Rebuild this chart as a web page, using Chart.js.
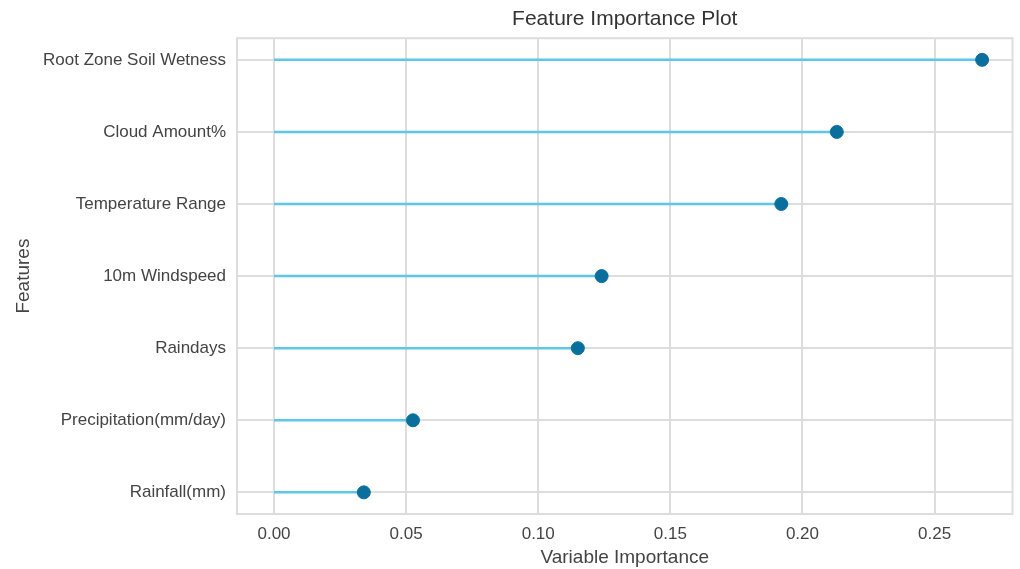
<!DOCTYPE html>
<html>
<head>
<meta charset="utf-8">
<script src="https://cdn.jsdelivr.net/npm/chart.js@4"></script>
<style>
  html, body { margin: 0; padding: 0; background: #fff; }
  #wrap { width: 1020px; height: 569px; }
</style>
</head>
<body>
<div id="wrap"><canvas id="fiChart"></canvas></div>
<script>
// features, top to bottom
const features = [
    "Root Zone Soil Wetness",
    "Cloud Amount%",
    "Temperature Range",
    "10m Windspeed",
    "Raindays",
    "Precipitation(mm/day)",
    "Rainfall(mm)"
];
const importance = [0.268, 0.213, 0.192, 0.124, 0.115, 0.0526, 0.034];
const xTicks = [0.00, 0.05, 0.10, 0.15, 0.20, 0.25];

const stemColor = "#5cc6ec";
const dotColor = "#0a6f9c";
const gridColor = "#dddddd";

// one stem per feature, from 0 to its value
let datasets = features.map(function (name, i) {
    return {
        type: "line",
        label: name,
        data: [{ x: 0, y: i }, { x: importance[i], y: i }],
        borderColor: stemColor,
        borderWidth: 2.5,
        pointRadius: 0,
        fill: false,
        order: 2,
    };
});

// dots on top of the stems
datasets.push({
    type: "scatter",
    label: "importance",
    data: importance.map(function (v, i) { return { x: v, y: i }; }),
    backgroundColor: dotColor,
    borderColor: dotColor,
    pointRadius: 6.5,
    pointHoverRadius: 6.5,
    order: 1,
});

// light box around the plot area
const frame = {
    id: "frame",
    beforeDatasetsDraw(chart) {
        const a = chart.chartArea;
        const c = chart.ctx;
        c.save();
        c.strokeStyle = gridColor;
        c.lineWidth = 2;
        c.strokeRect(a.left, a.top, a.right - a.left, a.bottom - a.top);
        c.restore();
    }
};

const ctx = document.getElementById("fiChart").getContext("2d");
new Chart(ctx, {
    type: "scatter",
    data: { datasets: datasets },
    plugins: [frame],
    options: {
        responsive: true,
        maintainAspectRatio: false,
        animation: false,
        layout: { padding: { top: 0, right: 0, bottom: 0, left: 0 } },
        plugins: {
            legend: { display: false },
            tooltip: { enabled: false },
            title: {
                display: true,
                text: "Feature Importance Plot",
                fullSize: false,
                color: "#333",
                font: { family: "Liberation Sans", size: 21, weight: "normal" },
                padding: { top: 7, bottom: 6 },
            },
        },
        scales: {
            x: {
                type: "linear",
                min: -0.014,
                max: 0.2795,
                afterBuildTicks(scale) {
                    scale.ticks = xTicks.map(function (v) { return { value: v }; });
                },
                afterFit(scale) { scale.height = 55; },
                ticks: {
                    color: "#444",
                    font: { family: "Liberation Sans", size: 17 },
                    padding: 10,
                    callback: function (v) { return v.toFixed(2); },
                },
                grid: { color: gridColor, lineWidth: 2, drawTicks: false },
                border: { display: false },
                title: {
                    display: true,
                    text: "Variable Importance",
                    color: "#444",
                    font: { family: "Liberation Sans", size: 19 },
                    padding: { top: 0, bottom: 0 },
                },
            },
            y: {
                type: "linear",
                reverse: true,
                min: -0.3,
                max: 6.3,
                afterBuildTicks(scale) {
                    scale.ticks = features.map(function (f, i) { return { value: i }; });
                },
                afterFit(scale) { scale.width = 237; },
                ticks: {
                    color: "#444",
                    font: { family: "Liberation Sans", size: 17 },
                    padding: 11,
                    callback: function (v) { return features[v]; },
                },
                grid: { color: gridColor, lineWidth: 2, drawTicks: false },
                border: { display: false },
                title: {
                    display: true,
                    text: "Features",
                    color: "#444",
                    font: { family: "Liberation Sans", size: 19 },
                    padding: { top: 12, bottom: 0 },
                },
            },
        },
    },
});
</script>
</body>
</html>
